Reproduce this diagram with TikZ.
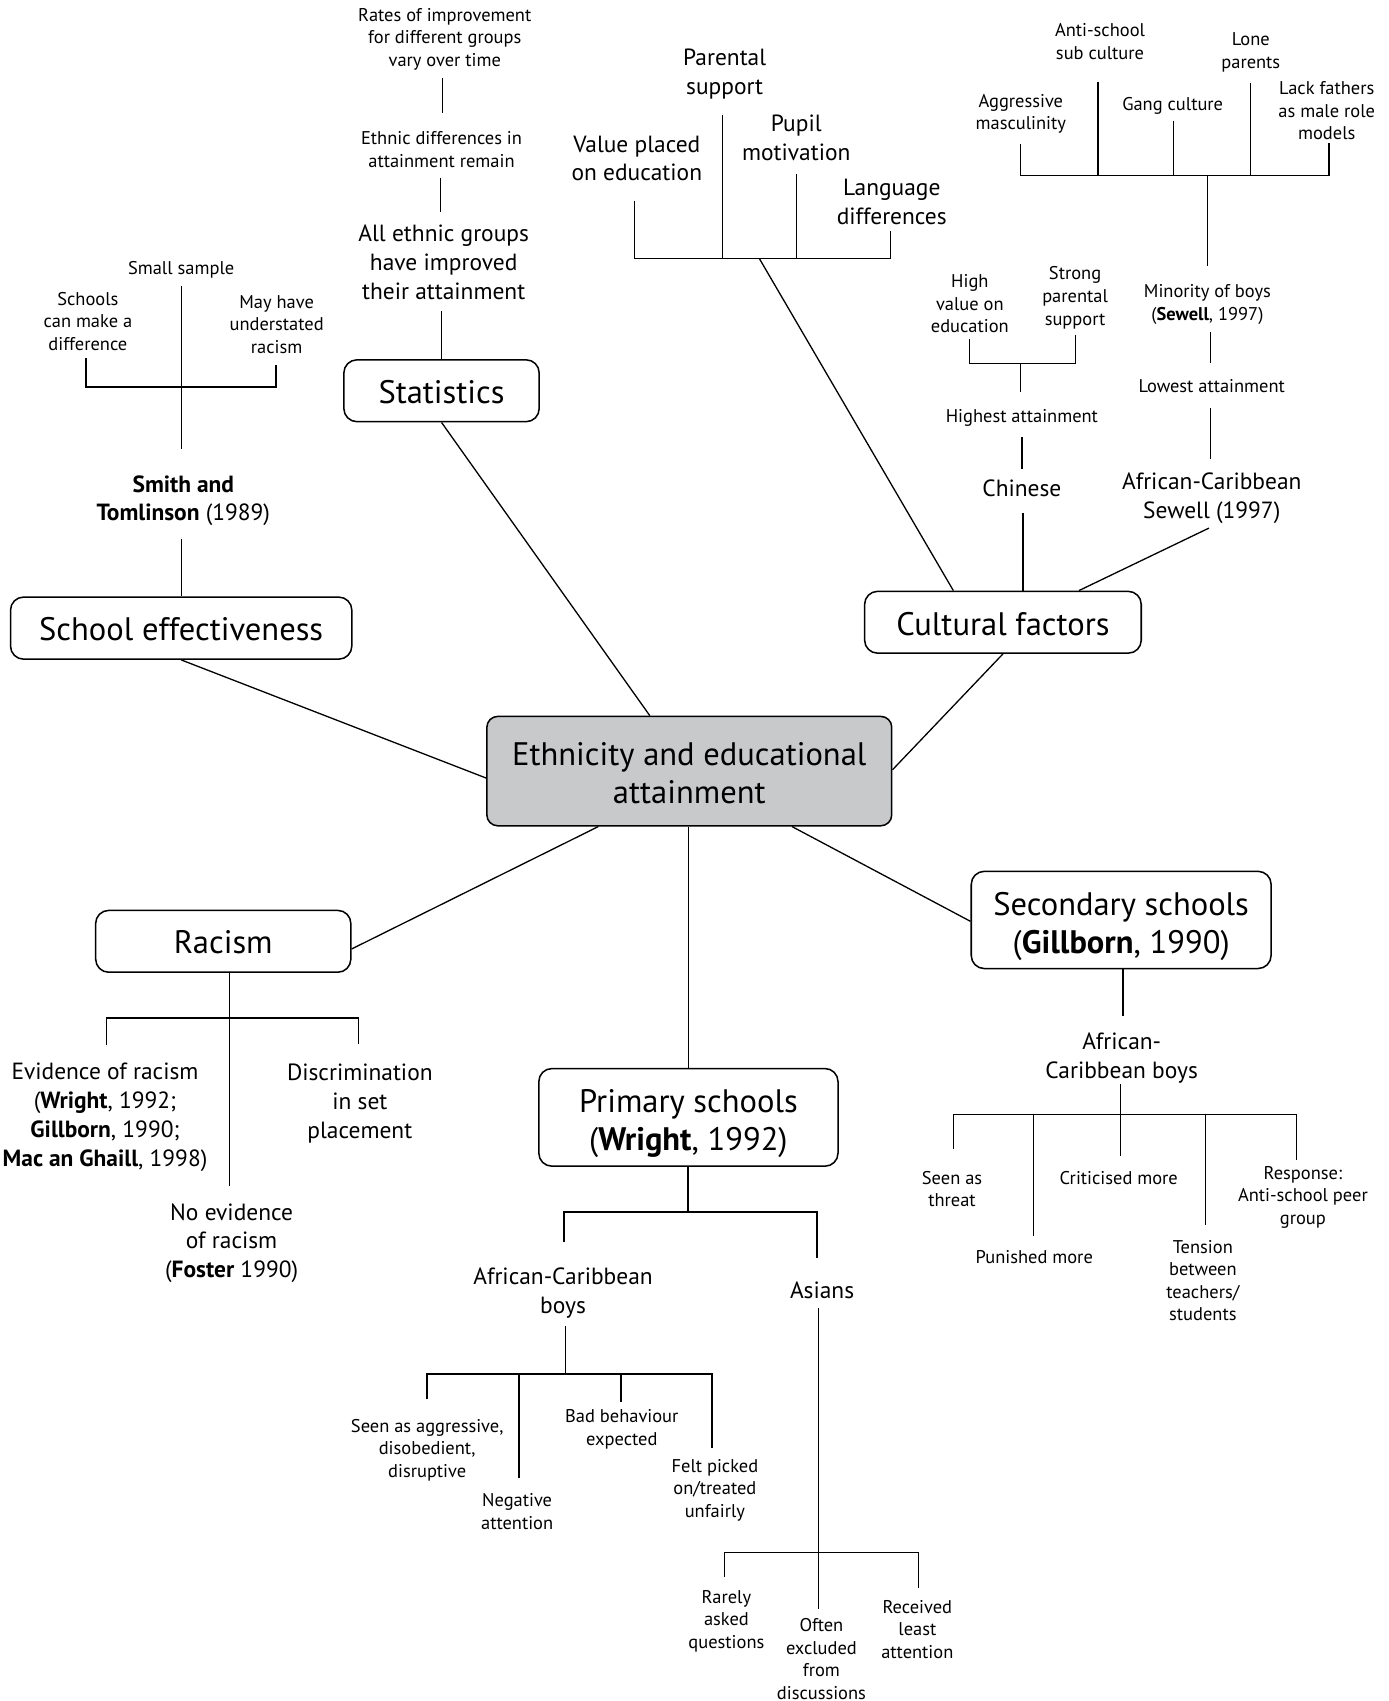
\documentclass[tikz,border=0pt]{standalone}
\usepackage{fontspec}
\setmainfont{PT Sans}
\usetikzlibrary{calc}
\newcommand{\fBig}{\fontsize{15}{17.5}\selectfont}
\newcommand{\fMed}{\fontsize{10.8}{13.3}\selectfont}
\newcommand{\fSml}{\fontsize{8.5}{10.4}\selectfont}
\definecolor{boxgray}{RGB}{200,201,203}
\begin{document}
\begin{tikzpicture}[x=0.5pt,y=-0.5pt,
  bx/.style={draw, rounded corners=6pt, line width=0.7pt, inner sep=0pt},
  bt/.style={font=\fBig, align=center, inner sep=0pt},
  md/.style={font=\fMed, align=center, inner sep=0pt, yshift=-1pt},
  sm/.style={font=\fSml, align=center, inner sep=0pt, yshift=-1pt},
  ln/.style={line width=0.6pt}]
\useasboundingbox (0,0) rectangle (1280,1568);

% ---------- boxes ----------
\node[bx, fill=boxgray, rounded corners=5pt, minimum width=186.6pt, minimum height=50.4pt] (central) at (635.4,710.8) {};
\node[bt, yshift=-1pt] (centralT) at (central) {Ethnicity and educational\\attainment};
\node[bx, minimum width=157.3pt, minimum height=28.6pt] (schooleff) at (167,579) {};
\node[bt, yshift=-0.6pt] (schooleffT) at (schooleff) {School effectiveness};
\node[bx, minimum width=90pt, minimum height=28.5pt] (stats) at (407,360.2) {};
\node[bt, yshift=-0.5pt] (statsT) at (stats) {Statistics};
\node[bx, minimum width=127.5pt, minimum height=28.5pt] (cultural) at (924.5,573.6) {};
\node[bt, yshift=-1pt] (culturalT) at (cultural) {Cultural factors};
\node[bx, minimum width=117.6pt, minimum height=28.5pt] (racism) at (205.8,867.7) {};
\node[bt, yshift=-0.5pt] (racismT) at (racism) {Racism};
\node[bx, minimum width=138.2pt, minimum height=44.8pt] (secondary) at (1033.5,848) {};
\node[bt, yshift=-3pt] (secondaryT) at (secondary) {Secondary schools\\(\textbf{Gillborn}, 1990)};
\node[bx, minimum width=137.9pt, minimum height=45pt] (primary) at (634.6,1030) {};
\node[bt, yshift=-3pt] (primaryT) at (primary) {Primary schools\\(\textbf{Wright}, 1992)};

% ---------- main connectors ----------
\draw[ln] (schooleff.south) -- ($(central.west)+(0,6.4)$);
\draw[ln] (stats.south) -- ($(central.north)+(-36.4,0)$);
\draw[ln] (cultural.south) -- ($(central.east)+(0,-1.2)$);
\draw[ln] ($(racism.east)+(0,7.1)$) -- ($(central.south)+(-83.8,0)$);
\draw[ln] (primary.north |- central.south) -- (primary.north);
\draw[ln] ($(central.south)+(94.6,0)$) -- ($(secondary.west)+(0,1.3)$);

% ---------- Statistics branch ----------
\node[sm] (rates) at (410,34) {Rates of improvement\\for different groups\\vary over time};
\node[sm] (ethdiff) at (407,136) {Ethnic differences in\\attainment remain};
\node[md] (allgrp) at (409,240) {All ethnic groups\\have improved\\their attainment};
\coordinate (s1a) at (408,72); \coordinate (s1b) at (408,104);
\coordinate (s2a) at (406,164); \coordinate (s2b) at (406,195);
\coordinate (s3a) at (407,287);
\draw[ln] (s1a) -- (s1b);
\draw[ln] (s2a) -- (s2b);
\draw[ln] (s3a) -- (s3a |- stats.north);

% ---------- School effectiveness branch ----------
\node[sm] (smallsample) at (167,247) {Small sample};
\node[sm] (canmake) at (81,294) {Schools\\can make a\\difference};
\node[sm] (mayhave) at (255,297) {May have\\understated\\racism};
\node[md] (smith) at (169,459.5) {\textbf{Smith and}\\\textbf{Tomlinson} (1989)};
\coordinate (e1) at (167,264); \coordinate (e2) at (167,414);
\coordinate (e3) at (79.3,330); \coordinate (e4) at (79.3,356.7);
\coordinate (e5) at (254.3,356.7); \coordinate (e6) at (254.3,336.5);
\coordinate (e7) at (167,497);
\draw[ln] (e1) -- (e2);
\draw[ln] (e3) -- (e4) -- (e5) -- (e6);
\draw[ln] (e7) -- (e7 |- schooleff.north);

% ---------- Cultural factors: middle cluster ----------
\node[md] (value) at (587,144) {Value placed\\on education};
\node[md] (parental) at (668,66) {Parental\\support};
\node[md] (pupil) at (734,125) {Pupil\\motivation};
\node[md] (language) at (822,184) {Language\\differences};
\coordinate (v1) at (585,185); \coordinate (v2) at (585,238.4);
\coordinate (v3) at (820.8,238.4); \coordinate (v4) at (820.8,213);
\coordinate (v5) at (666,106); \coordinate (v6) at (666,238.4);
\coordinate (v7) at (734.5,160); \coordinate (v8) at (734.5,238.4);
\coordinate (vj) at (700,238.4);
\draw[ln] (v1) -- (v2) -- (v3) -- (v4);
\draw[ln] (v5) -- (v6);
\draw[ln] (v7) -- (v8);
\draw[ln] (vj) -- ($(cultural.north)+(-45.7,0)$);

% ---------- Chinese cluster ----------
\node[sm] (highvalue) at (894,278) {High\\value on\\education};
\node[sm] (strong) at (991,272.5) {Strong\\parental\\support};
\node[sm] (highest) at (942,383.3) {Highest attainment};
\node[md] (chinese) at (942,448.5) {Chinese};
\coordinate (c1) at (893.5,312.4); \coordinate (c2) at (893.5,334.8);
\coordinate (c3) at (991.5,334.8); \coordinate (c4) at (991.5,308.7);
\coordinate (c5) at (941,334.8); \coordinate (c6) at (941,361);
\coordinate (c7) at (942,403); \coordinate (c8) at (942,432.5);
\coordinate (c9) at (943,472.7);
\draw[ln] (c1) -- (c2) -- (c3) -- (c4);
\draw[ln] (c5) -- (c6);
\draw[ln] (c7) -- (c8);
\draw[ln] (c9) -- (c9 |- cultural.north);

% ---------- African-Caribbean (Sewell) cluster ----------
\node[sm] (aggressive) at (941,103) {Aggressive\\masculinity};
\node[sm] (antischool) at (1014,36.5) {Anti-school\\sub culture};
\node[sm] (gang) at (1081,96) {Gang culture};
\node[sm] (lone) at (1153,46.5) {Lone\\parents};
\node[sm] (lack) at (1223,100) {Lack fathers\\as male role\\models};
\node[sm] (minority) at (1113,278.5) {Minority of boys\\(\textbf{Sewell}, 1997)};
\node[sm] (lowest) at (1117,353.9) {Lowest attainment};
\node[md] (afcarsew) at (1117,457) {African-Caribbean\\Sewell (1997)};
\coordinate (a1) at (940.9,132.7); \coordinate (a2) at (940.9,161.9);
\coordinate (a3) at (1225,161.9); \coordinate (a4) at (1225,132);
\coordinate (a5) at (1012,75.3); \coordinate (a6) at (1012,161.9);
\coordinate (a7) at (1082,111.2); \coordinate (a8) at (1082,161.9);
\coordinate (a9) at (1152.8,76.8); \coordinate (a10) at (1152.8,161.9);
\coordinate (a11) at (1112.9,161.9); \coordinate (a12) at (1112.9,244.8);
\coordinate (a13) at (1116,305.6); \coordinate (a14) at (1116,334.8);
\coordinate (a15) at (1116,376); \coordinate (a16) at (1116,423);
\coordinate (a17) at (1114.4,486.8);
\draw[ln] (a1) -- (a2) -- (a3) -- (a4);
\draw[ln] (a5) -- (a6);
\draw[ln] (a7) -- (a8);
\draw[ln] (a9) -- (a10);
\draw[ln] (a11) -- (a12);
\draw[ln] (a13) -- (a14);
\draw[ln] (a15) -- (a16);
\draw[ln] (a17) -- ($(cultural.north)+(70.1,0)$);

% ---------- Racism branch ----------
\node[md] (evidence) at (96.8,1028) {Evidence of racism\\(\textbf{Wright}, 1992;\\\textbf{Gillborn}, 1990;\\\textbf{Mac an Ghaill}, 1998)};
\node[md] (discrim) at (331.7,1015) {Discrimination\\in set\\placement};
\node[md] (noevid) at (213.5,1144) {No evidence\\of racism\\(\textbf{Foster} 1990)};
\coordinate (r1) at (211.3,1093);
\coordinate (r2) at (98.3,963); \coordinate (r3) at (98.3,938.4);
\coordinate (r4) at (330.2,938.4); \coordinate (r5) at (330.2,962);
\draw[ln] (r1 |- racism.south) -- (r1);
\draw[ln] (r2) -- (r3) -- (r4) -- (r5);

% ---------- Secondary schools branch ----------
\node[md] (sacb) at (1034,973) {African-\\Caribbean boys};
\node[sm] (threat) at (877.6,1094) {Seen as\\threat};
\node[sm] (punished) at (953.4,1156.5) {Punished more};
\node[sm] (criticised) at (1031.2,1084.3) {Criticised more};
\node[sm] (tension) at (1108.8,1178.3) {Tension\\between\\teachers/\\students};
\node[sm] (response) at (1201,1101.5) {Response:\\Anti-school peer\\group};
\coordinate (q1) at (1035.2,936.8);
\coordinate (q2) at (1033,999.2); \coordinate (q3) at (1033,1027.5);
\coordinate (q4) at (879,1058.8); \coordinate (q5) at (879,1027.5);
\coordinate (q6) at (1195.2,1027.5); \coordinate (q7) at (1195.2,1069.6);
\coordinate (q8) at (952.8,1027.5); \coordinate (q9) at (952.8,1139);
\coordinate (q10) at (1033,1065.9);
\coordinate (q11) at (1111.3,1027.5); \coordinate (q12) at (1111.3,1128.8);
\draw[ln] (q1 |- secondary.south) -- (q1);
\draw[ln] (q2) -- (q3);
\draw[ln] (q4) -- (q5) -- (q6) -- (q7);
\draw[ln] (q8) -- (q9);
\draw[ln] (q3) -- (q10);
\draw[ln] (q11) -- (q12);

% ---------- Primary schools branch ----------
\node[md] (pacb) at (519,1189.8) {African-Caribbean\\boys};
\node[md] (asians) at (757.8,1187.8) {Asians};
\coordinate (p1) at (634.3,1117.1);
\coordinate (p2) at (520,1145.1); \coordinate (p3) at (520,1117.1);
\coordinate (p4) at (753.2,1117.1); \coordinate (p5) at (753.2,1159.6);
\draw[ln] (p1 |- primary.south) -- (p1);
\draw[ln] (p2) -- (p3) -- (p4) -- (p5);

\node[sm] (seenagg) at (393.8,1334.6) {Seen as aggressive,\\disobedient,\\disruptive};
\node[sm] (negative) at (476.7,1391.6) {Negative\\attention};
\node[sm] (badbeh) at (573.2,1315.5) {Bad behaviour\\expected};
\node[sm] (felt) at (659,1371.5) {Felt picked\\on/treated\\unfairly};
\coordinate (b1) at (521,1222); \coordinate (b2) at (521,1266.5);
\coordinate (b3) at (393.5,1290); \coordinate (b4) at (393.5,1266.5);
\coordinate (b5) at (656.4,1266.5); \coordinate (b6) at (656.4,1334.6);
\coordinate (b7) at (478.3,1266.5); \coordinate (b8) at (478.3,1362.3);
\coordinate (b9) at (572.3,1266.5); \coordinate (b10) at (572.3,1292.3);
\draw[ln] (b1) -- (b2);
\draw[ln] (b3) -- (b4) -- (b5) -- (b6);
\draw[ln] (b7) -- (b8);
\draw[ln] (b9) -- (b10);

\node[sm] (rarely) at (669.6,1492.2) {Rarely\\asked\\questions};
\node[sm, yshift=1pt] (often) at (757.2,1529.5) {Often\\excluded\\from\\discussions};
\node[sm] (received) at (845.6,1500) {Received\\least\\attention};
\coordinate (d1) at (754.7,1205.6); \coordinate (d2) at (754.7,1430.8);
\coordinate (d3) at (668,1453.5); \coordinate (d4) at (668,1430.8);
\coordinate (d5) at (846.9,1430.8); \coordinate (d6) at (846.9,1463.6);
\coordinate (d7) at (754.7,1483);
\draw[ln] (d1) -- (d7);
\draw[ln] (d3) -- (d4) -- (d5) -- (d6);
\end{tikzpicture}
\end{document}
